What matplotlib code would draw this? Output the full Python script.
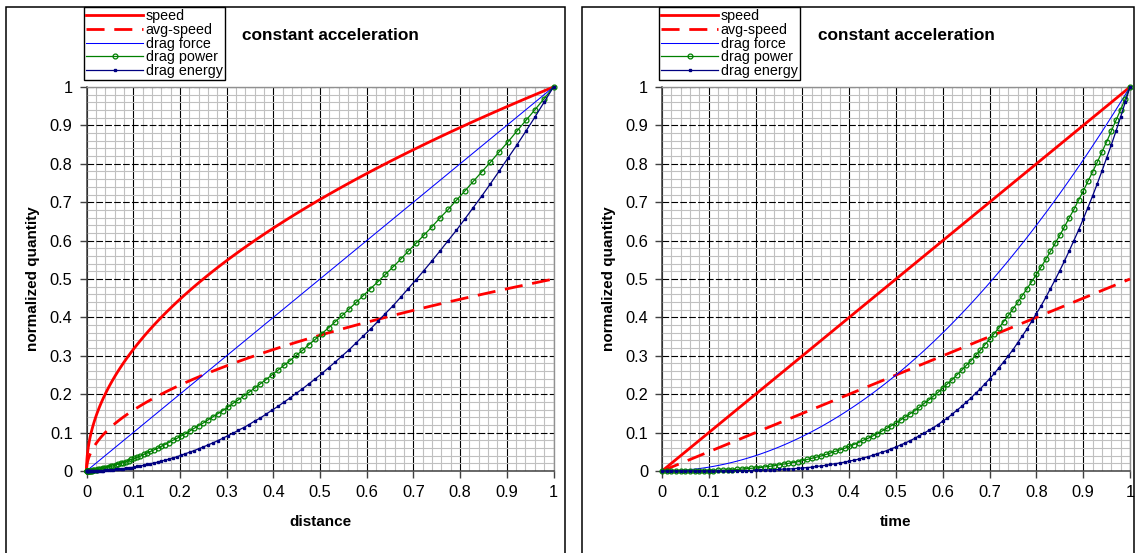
import matplotlib
matplotlib.use("Agg")
import matplotlib.pyplot as plt
from matplotlib.patches import Rectangle
from matplotlib.ticker import MultipleLocator

plt.rcParams['font.family'] = ['Liberation Sans', 'DejaVu Sans']

# ---- data (sampled every 0.01 in time) ----
time = [0.00, 0.01, 0.02, 0.03, 0.04, 0.05, 0.06, 0.07, 0.08, 0.09,
        0.10, 0.11, 0.12, 0.13, 0.14, 0.15, 0.16, 0.17, 0.18, 0.19,
        0.20, 0.21, 0.22, 0.23, 0.24, 0.25, 0.26, 0.27, 0.28, 0.29,
        0.30, 0.31, 0.32, 0.33, 0.34, 0.35, 0.36, 0.37, 0.38, 0.39,
        0.40, 0.41, 0.42, 0.43, 0.44, 0.45, 0.46, 0.47, 0.48, 0.49,
        0.50, 0.51, 0.52, 0.53, 0.54, 0.55, 0.56, 0.57, 0.58, 0.59,
        0.60, 0.61, 0.62, 0.63, 0.64, 0.65, 0.66, 0.67, 0.68, 0.69,
        0.70, 0.71, 0.72, 0.73, 0.74, 0.75, 0.76, 0.77, 0.78, 0.79,
        0.80, 0.81, 0.82, 0.83, 0.84, 0.85, 0.86, 0.87, 0.88, 0.89,
        0.90, 0.91, 0.92, 0.93, 0.94, 0.95, 0.96, 0.97, 0.98, 0.99, 1.00]

distance = [0.0, 0.0001, 0.0004, 0.0009, 0.0016, 0.0025, 0.0036, 0.0049, 0.0064, 0.0081,
            0.0100, 0.0121, 0.0144, 0.0169, 0.0196, 0.0225, 0.0256, 0.0289, 0.0324, 0.0361,
            0.0400, 0.0441, 0.0484, 0.0529, 0.0576, 0.0625, 0.0676, 0.0729, 0.0784, 0.0841,
            0.0900, 0.0961, 0.1024, 0.1089, 0.1156, 0.1225, 0.1296, 0.1369, 0.1444, 0.1521,
            0.1600, 0.1681, 0.1764, 0.1849, 0.1936, 0.2025, 0.2116, 0.2209, 0.2304, 0.2401,
            0.2500, 0.2601, 0.2704, 0.2809, 0.2916, 0.3025, 0.3136, 0.3249, 0.3364, 0.3481,
            0.3600, 0.3721, 0.3844, 0.3969, 0.4096, 0.4225, 0.4356, 0.4489, 0.4624, 0.4761,
            0.4900, 0.5041, 0.5184, 0.5329, 0.5476, 0.5625, 0.5776, 0.5929, 0.6084, 0.6241,
            0.6400, 0.6561, 0.6724, 0.6889, 0.7056, 0.7225, 0.7396, 0.7569, 0.7744, 0.7921,
            0.8100, 0.8281, 0.8464, 0.8649, 0.8836, 0.9025, 0.9216, 0.9409, 0.9604, 0.9801, 1.0]

speed = [0.00, 0.01, 0.02, 0.03, 0.04, 0.05, 0.06, 0.07, 0.08, 0.09,
         0.10, 0.11, 0.12, 0.13, 0.14, 0.15, 0.16, 0.17, 0.18, 0.19,
         0.20, 0.21, 0.22, 0.23, 0.24, 0.25, 0.26, 0.27, 0.28, 0.29,
         0.30, 0.31, 0.32, 0.33, 0.34, 0.35, 0.36, 0.37, 0.38, 0.39,
         0.40, 0.41, 0.42, 0.43, 0.44, 0.45, 0.46, 0.47, 0.48, 0.49,
         0.50, 0.51, 0.52, 0.53, 0.54, 0.55, 0.56, 0.57, 0.58, 0.59,
         0.60, 0.61, 0.62, 0.63, 0.64, 0.65, 0.66, 0.67, 0.68, 0.69,
         0.70, 0.71, 0.72, 0.73, 0.74, 0.75, 0.76, 0.77, 0.78, 0.79,
         0.80, 0.81, 0.82, 0.83, 0.84, 0.85, 0.86, 0.87, 0.88, 0.89,
         0.90, 0.91, 0.92, 0.93, 0.94, 0.95, 0.96, 0.97, 0.98, 0.99, 1.00]

avg_speed = [0.000, 0.005, 0.010, 0.015, 0.020, 0.025, 0.030, 0.035, 0.040, 0.045,
             0.050, 0.055, 0.060, 0.065, 0.070, 0.075, 0.080, 0.085, 0.090, 0.095,
             0.100, 0.105, 0.110, 0.115, 0.120, 0.125, 0.130, 0.135, 0.140, 0.145,
             0.150, 0.155, 0.160, 0.165, 0.170, 0.175, 0.180, 0.185, 0.190, 0.195,
             0.200, 0.205, 0.210, 0.215, 0.220, 0.225, 0.230, 0.235, 0.240, 0.245,
             0.250, 0.255, 0.260, 0.265, 0.270, 0.275, 0.280, 0.285, 0.290, 0.295,
             0.300, 0.305, 0.310, 0.315, 0.320, 0.325, 0.330, 0.335, 0.340, 0.345,
             0.350, 0.355, 0.360, 0.365, 0.370, 0.375, 0.380, 0.385, 0.390, 0.395,
             0.400, 0.405, 0.410, 0.415, 0.420, 0.425, 0.430, 0.435, 0.440, 0.445,
             0.450, 0.455, 0.460, 0.465, 0.470, 0.475, 0.480, 0.485, 0.490, 0.495, 0.500]

drag_force = [0.0, 0.0001, 0.0004, 0.0009, 0.0016, 0.0025, 0.0036, 0.0049, 0.0064, 0.0081,
              0.0100, 0.0121, 0.0144, 0.0169, 0.0196, 0.0225, 0.0256, 0.0289, 0.0324, 0.0361,
              0.0400, 0.0441, 0.0484, 0.0529, 0.0576, 0.0625, 0.0676, 0.0729, 0.0784, 0.0841,
              0.0900, 0.0961, 0.1024, 0.1089, 0.1156, 0.1225, 0.1296, 0.1369, 0.1444, 0.1521,
              0.1600, 0.1681, 0.1764, 0.1849, 0.1936, 0.2025, 0.2116, 0.2209, 0.2304, 0.2401,
              0.2500, 0.2601, 0.2704, 0.2809, 0.2916, 0.3025, 0.3136, 0.3249, 0.3364, 0.3481,
              0.3600, 0.3721, 0.3844, 0.3969, 0.4096, 0.4225, 0.4356, 0.4489, 0.4624, 0.4761,
              0.4900, 0.5041, 0.5184, 0.5329, 0.5476, 0.5625, 0.5776, 0.5929, 0.6084, 0.6241,
              0.6400, 0.6561, 0.6724, 0.6889, 0.7056, 0.7225, 0.7396, 0.7569, 0.7744, 0.7921,
              0.8100, 0.8281, 0.8464, 0.8649, 0.8836, 0.9025, 0.9216, 0.9409, 0.9604, 0.9801, 1.0]

drag_power = [0.000, 0.000, 0.000, 0.000, 0.000, 0.000, 0.000, 0.000, 0.001, 0.001,
              0.001, 0.001, 0.002, 0.002, 0.003, 0.003, 0.004, 0.005, 0.006, 0.007,
              0.008, 0.009, 0.011, 0.012, 0.014, 0.016, 0.018, 0.020, 0.022, 0.024,
              0.027, 0.030, 0.033, 0.036, 0.039, 0.043, 0.047, 0.051, 0.055, 0.059,
              0.064, 0.069, 0.074, 0.080, 0.085, 0.091, 0.097, 0.104, 0.111, 0.118,
              0.125, 0.133, 0.141, 0.149, 0.157, 0.166, 0.176, 0.185, 0.195, 0.205,
              0.216, 0.227, 0.238, 0.250, 0.262, 0.275, 0.287, 0.301, 0.314, 0.329,
              0.343, 0.358, 0.373, 0.389, 0.405, 0.422, 0.439, 0.457, 0.475, 0.493,
              0.512, 0.531, 0.551, 0.572, 0.593, 0.614, 0.636, 0.659, 0.681, 0.705,
              0.729, 0.754, 0.779, 0.804, 0.831, 0.857, 0.885, 0.913, 0.941, 0.970, 1.000]

drag_energy = [0.000, 0.000, 0.000, 0.000, 0.000, 0.000, 0.000, 0.000, 0.000, 0.000,
               0.000, 0.000, 0.000, 0.000, 0.000, 0.001, 0.001, 0.001, 0.001, 0.001,
               0.002, 0.002, 0.002, 0.003, 0.003, 0.004, 0.005, 0.005, 0.006, 0.007,
               0.008, 0.009, 0.010, 0.012, 0.013, 0.015, 0.017, 0.019, 0.021, 0.023,
               0.026, 0.028, 0.031, 0.034, 0.037, 0.041, 0.045, 0.049, 0.053, 0.058,
               0.0625, 0.068, 0.073, 0.079, 0.085, 0.092, 0.098, 0.106, 0.113, 0.121,
               0.130, 0.138, 0.148, 0.158, 0.168, 0.179, 0.190, 0.202, 0.214, 0.227,
               0.240, 0.254, 0.269, 0.284, 0.300, 0.316, 0.334, 0.352, 0.370, 0.390,
               0.410, 0.430, 0.452, 0.475, 0.498, 0.522, 0.547, 0.573, 0.600, 0.627,
               0.656, 0.686, 0.716, 0.748, 0.781, 0.815, 0.849, 0.885, 0.922, 0.961, 1.000]

labels = ["speed", "avg-speed", "drag force", "drag power", "drag energy"]
title_text = "constant acceleration"
ylabel_text = "normalized quantity"
xlabels = ["distance", "time"]
tick_vals = [0, 0.1, 0.2, 0.3, 0.4, 0.5, 0.6, 0.7, 0.8, 0.9, 1]
tick_labels = ["0", "0.1", "0.2", "0.3", "0.4", "0.5", "0.6", "0.7", "0.8", "0.9", "1"]

W, H = 1135, 553
fig = plt.figure(figsize=(W / 100, H / 100), dpi=100)


def fx(px):
    return px / W


def fy(py):
    return 1 - py / H


# outer chart boxes
for x0, x1 in [(6, 565), (582, 1133.5)]:
    fig.add_artist(Rectangle((fx(x0), -0.1), fx(x1) - fx(x0), fy(7) + 0.1,
                             transform=fig.transFigure, fill=False,
                             edgecolor='black', linewidth=1.1, zorder=0))

panels = [
    dict(x=distance, left=86.5, right=553.5, xlabel=xlabels[0], legx=84, titlex=330),
    dict(x=time, left=662, right=1130, xlabel=xlabels[1], legx=659, titlex=906),
]

for p in panels:
    ax = fig.add_axes([fx(p['left']), fy(471), fx(p['right']) - fx(p['left']), fy(87) - fy(471)])
    xs = p['x']
    h1, = ax.plot(xs, speed, color='#FF0000', lw=2.0, zorder=3, clip_on=False)
    h2, = ax.plot(xs, avg_speed, color='#FF0000', lw=2.0, dashes=(6.5, 3.5), zorder=3, clip_on=False)
    h3, = ax.plot(xs, drag_force, color='#0000FF', lw=0.75, zorder=4, clip_on=False)
    h4, = ax.plot(xs, drag_power, color='#008000', lw=0.9, marker='o', ms=3.5,
                  mfc='none', mec='#008000', mew=0.9, zorder=5, clip_on=False)
    h5, = ax.plot(xs, drag_energy, color='#000080', lw=0.9, marker='s', ms=1.7,
                  mfc='#000080', mec='#000080', zorder=6, clip_on=False)

    ax.set_xlim(0, 1)
    ax.set_ylim(0, 1)
    ax.set_xticks(tick_vals)
    ax.set_xticklabels(tick_labels)
    ax.set_yticks(tick_vals)
    ax.set_yticklabels(tick_labels)
    ax.xaxis.set_minor_locator(MultipleLocator(0.02))
    ax.yaxis.set_minor_locator(MultipleLocator(0.02))
    ax.tick_params(which='minor', length=0)
    ax.tick_params(which='major', direction='out', length=5, width=1, color='#404040',
                   labelsize=11.8, pad=5)
    ax.set_axisbelow(True)
    ax.grid(which='minor', color='#C0C0C0', lw=0.8, zorder=0)
    ax.xaxis.grid(which='major', color='black', lw=0.8, ls='-', zorder=1)
    ax.yaxis.grid(which='major', color='black', lw=0.8, dashes=(6, 2), zorder=1)
    for s in ['left', 'bottom']:
        ax.spines[s].set_color('#404040')
        ax.spines[s].set_linewidth(1.1)
    for s in ['top', 'right']:
        ax.spines[s].set_color('#909090')
        ax.spines[s].set_linewidth(1.0)

    ax.set_xlabel(p['xlabel'], fontsize=11, fontweight='bold', labelpad=11)
    ax.set_ylabel(ylabel_text, fontsize=11, fontweight='bold', labelpad=7)

    fig.text(fx(p['titlex']), fy(35), title_text, fontsize=12.4, fontweight='bold',
             ha='center', va='center')

    leg = fig.legend([h1, h2, h3, h4, h5], labels, loc='upper left',
                     bbox_to_anchor=(fx(p['legx']), fy(7)), bbox_transform=fig.transFigure,
                     borderaxespad=0, fontsize=10.3, frameon=True, fancybox=False,
                     edgecolor='black', framealpha=1, handlelength=4.0,
                     handletextpad=0.15, labelspacing=-0.02, borderpad=0.15,
                     numpoints=1)
    leg.get_frame().set_linewidth(1.0)

fig.savefig("out.png", dpi=100)
